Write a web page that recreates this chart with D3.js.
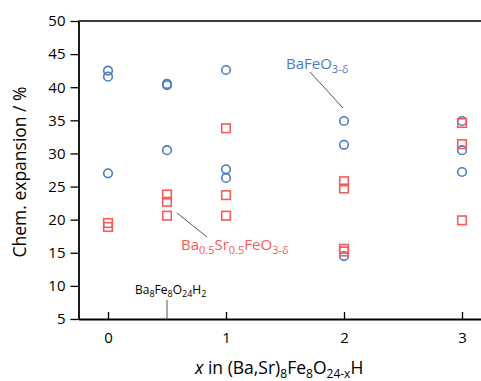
<!DOCTYPE html>
<html><head><meta charset="utf-8">
<script src="https://cdn.jsdelivr.net/npm/d3@7"></script>
<style>body{margin:0;background:#fff}svg{display:block}text{font-family:"Open Sans",sans-serif}</style>
</head><body><svg id="c" width="481" height="381"></svg>
<script>
const yTicks = [5,10,15,20,25,30,35,40,45,50];
const xTicks = [0,1,2,3];
const baFeX = [0,0,0, 0.5,0.5,0.5, 1,1,1, 2,2,2, 3,3,3];
const baFeY = [42.5,41.6,27.0, 40.5,40.3,30.5, 42.6,27.6,26.3, 34.9,31.3,14.5, 34.9,30.5,27.2];
const bsfX = [0,0, 0.5,0.5,0.5, 1,1,1, 2,2,2,2, 3,3,3];
const bsfY = [19.5,18.9, 23.8,22.7,20.6, 33.8,23.7,20.6, 25.8,24.7,15.6,15.2, 34.6,31.4,19.9];

const svg = d3.select("#c");
const x = d3.scaleLinear().domain([-0.25,3.25]).range([78.5,491.5]);
const y = d3.scaleLinear().domain([5,50]).range([319,21]);
const blue = "#4a7cc2", red = "#f45b5b";

// top border
svg.append("line").attr("x1",x(-0.25)).attr("x2",x(3.25)).attr("y1",y(50)).attr("y2",y(50)).attr("stroke","#000").attr("stroke-width",1.5);

const ya = svg.append("g").attr("transform",`translate(${x(-0.25)},0)`)
  .call(d3.axisLeft(y).tickValues(yTicks).tickFormat(d3.format("d")).tickSize(8).tickPadding(5).tickSizeOuter(0));
ya.select(".domain").attr("stroke-width",1.8);
ya.selectAll(".tick line").attr("stroke-width",1.3);
ya.selectAll("text").attr("font-size",15).attr("font-family","Open Sans").attr("fill","#000");

const xa = svg.append("g").attr("transform",`translate(0,${y(5)})`)
  .call(d3.axisBottom(x).tickValues(xTicks).tickFormat(d3.format("d")).tickSize(-7).tickPadding(13).tickSizeOuter(0));
xa.select(".domain").attr("stroke-width",1.8);
xa.selectAll(".tick line").attr("stroke-width",1.3);
xa.selectAll("text").attr("font-size",15).attr("font-family","Open Sans").attr("fill","#000");

// circles
svg.append("g").selectAll("circle").data(baFeY).join("circle")
  .attr("cx",(d,i)=>x(baFeX[i])).attr("cy",d=>y(d)).attr("r",4.3)
  .attr("fill","none").attr("stroke",blue).attr("stroke-width",1.6);
// squares
svg.append("g").selectAll("rect").data(bsfY).join("rect")
  .attr("x",(d,i)=>x(bsfX[i])-4.3).attr("y",d=>y(d)-4.3).attr("width",8.6).attr("height",8.6)
  .attr("fill","none").attr("stroke",red).attr("stroke-width",1.6);

// annotations
svg.append("line").attr("x1",310).attr("y1",72).attr("x2",343).attr("y2",108).attr("stroke","#555").attr("stroke-width",1);
svg.append("line").attr("x1",177).attr("y1",213).attr("x2",207).attr("y2",237).attr("stroke","#555").attr("stroke-width",1);
svg.append("line").attr("x1",x(0.5)).attr("y1",300).attr("x2",x(0.5)).attr("y2",y(5)).attr("stroke","#555").attr("stroke-width",1);

const t1 = svg.append("text").attr("x",286).attr("y",69).attr("fill",blue).attr("font-size",15);
t1.append("tspan").text("BaFeO");
t1.append("tspan").attr("font-size",11).attr("dy",4).text("3-δ");

const t2 = svg.append("text").attr("x",181).attr("y",250).attr("fill",red).attr("font-size",15);
t2.append("tspan").text("Ba");
t2.append("tspan").attr("font-size",11).attr("dy",4).text("0.5");
t2.append("tspan").attr("dy",-4).text("Sr");
t2.append("tspan").attr("font-size",11).attr("dy",4).text("0.5");
t2.append("tspan").attr("dy",-4).text("FeO");
t2.append("tspan").attr("font-size",11).attr("dy",4).text("3-δ");

const t3 = svg.append("text").attr("x",135).attr("y",294).attr("fill","#000").attr("font-size",12);
t3.append("tspan").text("Ba");
t3.append("tspan").attr("font-size",9).attr("dy",3).text("8");
t3.append("tspan").attr("dy",-3).text("Fe");
t3.append("tspan").attr("font-size",9).attr("dy",3).text("8");
t3.append("tspan").attr("dy",-3).text("O");
t3.append("tspan").attr("font-size",9).attr("dy",3).text("24");
t3.append("tspan").attr("dy",-3).text("H");
t3.append("tspan").attr("font-size",9).attr("dy",3).text("2");

// axis titles
svg.append("text").attr("transform","translate(26,172) rotate(-90)").attr("text-anchor","middle")
  .attr("font-size",17.5).attr("fill","#000").text("Chem. expansion / %");

const xl = svg.append("text").attr("x",195).attr("y",374).attr("font-size",17.5).attr("fill","#000");
xl.append("tspan").attr("font-style","italic").text("x");
xl.append("tspan").text(" in (Ba,Sr)");
xl.append("tspan").attr("font-size",12).attr("dy",4).text("8");
xl.append("tspan").attr("dy",-4).text("Fe");
xl.append("tspan").attr("font-size",12).attr("dy",4).text("8");
xl.append("tspan").attr("dy",-4).text("O");
xl.append("tspan").attr("font-size",12).attr("dy",4).text("24-x");
xl.append("tspan").attr("dy",-4).text("H");
</script></body></html>
